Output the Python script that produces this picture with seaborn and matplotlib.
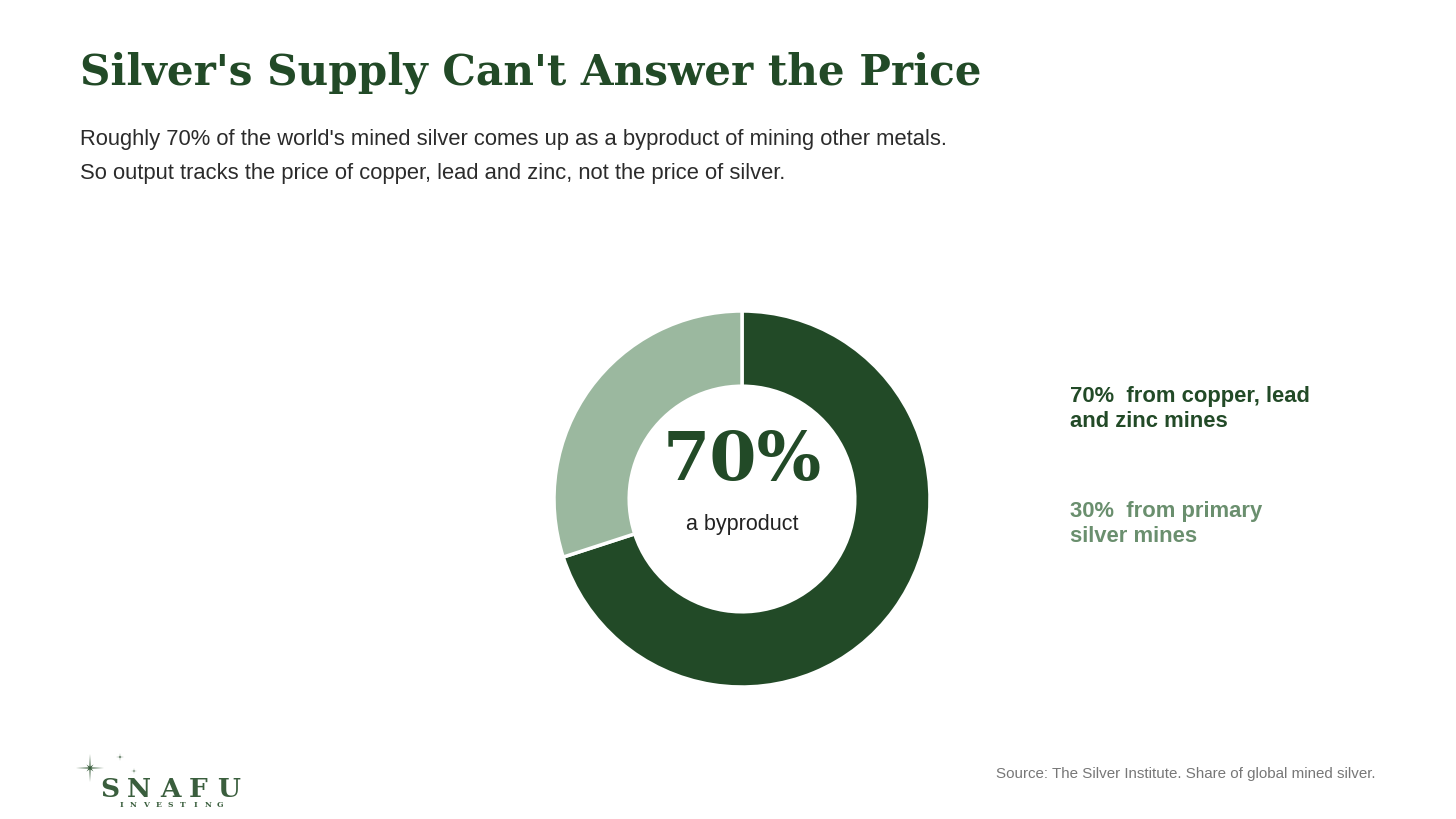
import matplotlib
matplotlib.use("Agg")
import matplotlib.pyplot as plt
from matplotlib.patches import Polygon
import numpy as np
import seaborn as sns

# data
segments = ["from copper, lead and zinc mines", "from primary silver mines"]
shares = [70, 30]
legend_lines = ["70%  from copper, lead\nand zinc mines", "30%  from primary\nsilver mines"]
center_value = "70%"
center_label = "a byproduct"

title = "Silver's Supply Can't Answer the Price"
subtitle = ("Roughly 70% of the world's mined silver comes up as a byproduct of mining other metals.\n"
            "So output tracks the price of copper, lead and zinc, not the price of silver.")
source = "Source: The Silver Institute. Share of global mined silver."

DARK = "#224a27"
LIGHT = "#9bb89f"
LIGHT_TEXT = "#6a8f6e"
LOGO = "#3a5e3d"

sns.set_theme(style="white")
plt.rcParams['font.family'] = ['Liberation Sans', 'DejaVu Sans']

W, H = 1456, 819
fig = plt.figure(figsize=(W / 100, H / 100), dpi=100)
fig.patch.set_facecolor("white")


def fx(px):
    return px / W


def fy(py):
    return 1 - py / H


# donut, centre (742, 499), radius 188 px
cx, cy, r = 742, 499, 188
ax = fig.add_axes([fx(cx - r), fy(cy + r), 2 * r / W, 2 * r / H])
ax.pie(shares, colors=[DARK, LIGHT], startangle=90, counterclock=False, radius=1,
       wedgeprops=dict(width=0.4, edgecolor="white", linewidth=2.5))
ax.set_xlim(-1, 1)
ax.set_ylim(-1, 1)
ax.set_aspect("equal")
ax.axis("off")

ax.text(0, 0.10, center_value, ha="center", va="baseline", family="DejaVu Serif",
        fontweight="bold", fontsize=49, color=DARK)
ax.text(0, -0.165, center_label, ha="center", va="baseline", fontsize=15.5, color="#222222")

# title and subtitle
fig.text(fx(80), fy(84), title, family="DejaVu Serif", fontweight="bold",
         fontsize=30.3, color=DARK, ha="left", va="baseline")
sub1, sub2 = subtitle.split("\n")
fig.text(fx(80), fy(145), sub1, fontsize=15.8, color="#2b2b2b", ha="left", va="baseline")
fig.text(fx(80), fy(179), sub2, fontsize=15.8, color="#2b2b2b", ha="left", va="baseline")

# legend labels
for (line, col, top) in zip(legend_lines, [DARK, LIGHT_TEXT], [402, 517]):
    first, second = line.split("\n")
    fig.text(fx(1070), fy(top), first, fontsize=15.8, fontweight="bold", color=col,
             ha="left", va="baseline")
    fig.text(fx(1070), fy(top + 25), second, fontsize=15.8, fontweight="bold", color=col,
             ha="left", va="baseline")

# source
fig.text(fx(1376), fy(778), source, fontsize=10.9, color="#777777", ha="right", va="baseline")

# logo (pixel-coordinate overlay)
lax = fig.add_axes([0, 0, 1, 1], zorder=-1)
lax.set_xlim(0, W)
lax.set_ylim(H, 0)
lax.axis("off")


def sparkle(x0, y0, big, small, inner):
    ang = np.arange(16) * np.pi / 8
    rad = np.array([big, inner, small, inner] * 4)
    pts = np.column_stack([x0 + rad * np.sin(ang), y0 - rad * np.cos(ang)])
    lax.add_patch(Polygon(pts, closed=True, color=LOGO, lw=0))


sparkle(90, 768, 14, 5, 1.6)
sparkle(120, 757, 4, 1.5, 0.6)
sparkle(134, 771, 3, 1.2, 0.5)

for letter, xc in zip("SNAFU", [110, 139, 171, 198, 229]):
    lax.text(xc, 797, letter, family="DejaVu Serif", fontweight="bold", fontsize=19,
             color=LOGO, ha="center", va="baseline")
for i, letter in enumerate("INVESTING"):
    lax.text(121 + i * 12.4, 807, letter, family="DejaVu Serif", fontweight="bold",
             fontsize=5.5, color=LOGO, ha="center", va="baseline")

fig.savefig("out.png", dpi=100, facecolor="white")
